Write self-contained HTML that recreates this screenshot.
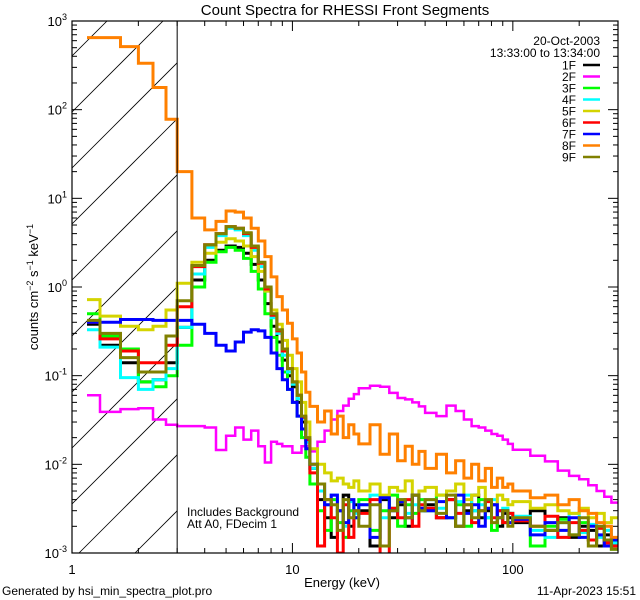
<!DOCTYPE html>
<html><head><meta charset="utf-8">
<style>
html,body{margin:0;padding:0;background:#fff;width:640px;height:600px;overflow:hidden;}
svg{display:block;font-family:"Liberation Sans",sans-serif;}
</style></head>
<body>
<svg id="chart" width="640" height="600" viewBox="0 0 640 600">
  <defs><clipPath id="plotClip"><rect x="72" y="21" width="546" height="532"/></clipPath>
  <clipPath id="hatchClip"><rect x="72" y="21" width="105.5" height="532"/></clipPath></defs>
  <rect x="0" y="0" width="640" height="600" fill="#fff"/>
  <text x="345" y="15" font-size="15" text-anchor="middle">Count Spectra for RHESSI Front Segments</text>
  <g id="hatch" clip-path="url(#hatchClip)"></g>
  <g id="series" clip-path="url(#plotClip)"></g>
  <g id="axes"></g>
  <text x="342" y="587" font-size="13" text-anchor="middle">Energy (keV)</text>
  <text transform="translate(38,287) rotate(-90)" font-size="13" text-anchor="middle">counts cm<tspan dy="-5" font-size="9">−2</tspan><tspan dy="5"> s</tspan><tspan dy="-5" font-size="9">−1</tspan><tspan dy="5"> keV</tspan><tspan dy="-5" font-size="9">−1</tspan></text>
  <text x="187" y="516" font-size="12">Includes Background</text>
  <text x="187" y="528" font-size="12">Att A0, FDecim 1</text>
  <text x="2" y="595" font-size="12">Generated by hsi_min_spectra_plot.pro</text>
  <text x="636" y="595" font-size="12" text-anchor="end">11-Apr-2023 15:51</text>
  <text x="600" y="45" font-size="12" text-anchor="end">20-Oct-2003</text>
  <text x="600" y="57" font-size="12" text-anchor="end">13:33:00 to 13:34:00</text>
  <g id="legend"></g>
</svg>
<script>
const edges = [1.17,1.34,1.66,2.0,2.33,2.67,3.0,3.5,4,4.5,5,5.5,6,6.5,7,7.5,8,8.5,9,9.5,10,10.5,11,11.5,12,13,14,15,16,17,18,19,20,22.5,25,27.5,30,32.5,35,37.5,40,45,50,55,60,65,70,75,80,85,90,95,100,120,140,160,180,200,220,240,260,280,300];
const seriesNames = ["1F","2F","3F","4F","5F","6F","7F","8F","9F"];
const seriesColors = ["#000000","#ff00ff","#00ff00","#00ffff","#d4d400","#ff0000","#0000ff","#ff8000","#808000"];
const s1F = [0.38,0.22,0.14,0.085,0.09,0.14, 0.35,1.2,2.0,2.6,2.9,2.8,2.4,1.8,1.2,0.65,0.36,0.24,0.15,0.1,0.075,0.05,0.03,0.018,
 0.009,0.004,0.0025,0.0015,0.003,0.0045,0.002,0.0035, 0.003,0.0012,0.004,0.0025,0.0035,0.002,0.0045,0.003,
 0.0035,0.0025,0.004,0.002,0.003,0.0045,0.0025,0.003,0.0035,0.002,0.0028,0.0025,
 0.0022,0.003,0.0018,0.0025,0.0015,0.002,0.0018,0.0012,0.0016,0.0013];
const s2F = [0.06,0.039,0.042,0.043,0.032,0.028, 0.027,0.027,0.026,0.0145,0.021,0.026,0.019,0.024,0.016,0.0105,0.018,0.017,0.016,0.016,0.0135,0.0135,0.016,0.016,
 0.014,0.018,0.024,0.032,0.04,0.046,0.055,0.062, 0.072,0.077,0.075,0.064,0.056,0.054,0.05,0.045,
 0.038,0.035,0.046,0.04,0.032,0.027,0.026,0.024,0.022,0.021,0.019,0.017,
 0.0146,0.0125,0.0108,0.0085,0.0074,0.0068,0.0058,0.005,0.0043,0.0037];
const s3F = [0.5,0.28,0.2,0.085,0.075,0.1, 0.22,1.0,1.9,2.5,2.8,2.6,2.1,1.5,0.95,0.5,0.27,0.17,0.11,0.07,0.05,0.035,0.02,0.012,
 0.006,0.003,0.0018,0.004,0.0022,0.0015,0.003,0.0025, 0.004,0.0018,0.003,0.0045,0.002,0.0035,0.0028,0.004,
 0.003,0.0045,0.0025,0.0035,0.002,0.003,0.004,0.0025,0.0018,0.003,0.0022,0.0028,
 0.0025,0.0012,0.002,0.0024,0.0016,0.0022,0.0014,0.0019,0.0012,0.0011];
const s4F = [0.33,0.21,0.095,0.07,0.09,0.12, 0.35,1.4,2.8,3.8,4.6,4.4,3.8,2.6,1.7,0.9,0.45,0.3,0.17,0.11,0.08,0.055,0.033,0.018,
 0.009,0.005,0.0035,0.0045,0.003,0.002,0.0038,0.0028, 0.0035,0.0045,0.0025,0.0032,0.004,0.0028,0.0035,0.003,
 0.004,0.0032,0.0025,0.0038,0.0045,0.003,0.0035,0.0025,0.004,0.003,0.0032,0.0028,
 0.0026,0.0018,0.0015,0.0022,0.0028,0.0017,0.0021,0.0015,0.0018,0.0013];
const s5F = [0.72,0.47,0.36,0.33,0.36,0.55, 1.1,1.9,2.4,3.2,3.5,3.3,2.9,2.2,1.5,0.9,0.55,0.38,0.25,0.17,0.12,0.085,0.05,0.03,
 0.015,0.01,0.008,0.0065,0.007,0.006,0.0055,0.0065, 0.005,0.006,0.0045,0.0055,0.005,0.0065,0.0045,0.005,
 0.0055,0.0045,0.005,0.006,0.004,0.0045,0.0055,0.004,0.0035,0.0045,0.004,0.0035,
 0.0038,0.0032,0.0035,0.003,0.0028,0.0032,0.0025,0.0028,0.0022,0.0025];
const s6F = [0.4,0.26,0.19,0.14,0.14,0.22, 0.6,1.7,3.0,4.0,4.8,4.6,4.0,2.8,1.85,0.95,0.48,0.32,0.19,0.12,0.085,0.06,0.034,0.019,
 0.008,0.0012,0.004,0.0025,0.001,0.0035,0.0015,0.003, 0.0028,0.004,0.0009,0.0032,0.0025,0.004,0.002,0.0035,
 0.0032,0.0025,0.004,0.0028,0.0035,0.0022,0.003,0.0038,0.0025,0.003,0.0022,0.0028,
 0.0023,0.002,0.0026,0.0015,0.0022,0.0018,0.0014,0.0019,0.0013,0.0012];
const s7F = [0.4,0.4,0.43,0.43,0.42,0.42, 0.42,0.38,0.3,0.22,0.19,0.24,0.31,0.33,0.32,0.27,0.18,0.12,0.09,0.07,0.05,0.035,0.025,0.015,
 0.01,0.006,0.0035,0.0045,0.003,0.0022,0.004,0.0025, 0.0035,0.0015,0.0042,0.003,0.0038,0.0025,0.0045,0.0032,
 0.003,0.0038,0.0025,0.0045,0.0028,0.0035,0.002,0.0032,0.0035,0.0025,0.003,0.0022,
 0.0024,0.0016,0.0022,0.0018,0.0025,0.0015,0.002,0.0016,0.0012,0.0014];
const s8F = [650,650,515,333,178,78, 20,6,4.4,5.5,7.2,7.0,6.0,4.6,3.3,2.2,1.3,0.78,0.55,0.39,0.26,0.18,0.11,0.065,
 0.045,0.03,0.04,0.022,0.035,0.02,0.028,0.022, 0.017,0.028,0.013,0.022,0.011,0.016,0.01,0.014,
 0.009,0.013,0.008,0.011,0.007,0.01,0.0065,0.009,0.0055,0.007,0.0055,0.006,
 0.005,0.0042,0.0045,0.0035,0.004,0.003,0.0028,0.0022,0.002,0.0015];
const s9F = [0.42,0.3,0.16,0.11,0.11,0.28, 0.7,1.75,3.0,4.0,4.8,4.6,4.1,2.9,1.9,1.0,0.5,0.33,0.2,0.12,0.085,0.06,0.035,0.02,
 0.01,0.006,0.004,0.0035,0.0018,0.004,0.0025,0.003, 0.002,0.0035,0.0012,0.003,0.004,0.0025,0.0045,0.003,
 0.004,0.0028,0.0045,0.002,0.0035,0.0025,0.003,0.004,0.0022,0.0025,0.003,0.002,
 0.0025,0.002,0.0018,0.0022,0.0016,0.0025,0.0012,0.002,0.0014,0.0011];
const seriesValues = [s1F,s2F,s3F,s4F,s5F,s6F,s7F,s8F,s9F];
const xTickMajor = [1,10,100];
const xTickLabels = ["1","10","100"];
const yTickExps = [-3,-2,-1,0,1,2,3];

const NS = "http://www.w3.org/2000/svg";
const X0 = 72, X1 = 618, Y0 = 21, Y1 = 553;
const xMinLog = 0, xMaxLog = Math.log10(300);
const yMinLog = -3, yMaxLog = 3;
function xs(e){ return X0 + (Math.log10(e) - xMinLog) / (xMaxLog - xMinLog) * (X1 - X0); }
function ys(v){ const lv = Math.log10(Math.max(v, 1e-6)); return Y1 - (lv - yMinLog) / (yMaxLog - yMinLog) * (Y1 - Y0); }
function mk(tag, attrs, parent){ const el = document.createElementNS(NS, tag); for (const k in attrs) el.setAttribute(k, attrs[k]); parent.appendChild(el); return el; }

const hatch = document.getElementById('hatch');
for (let c = -600; c < 700; c += 56) {
  const ln = mk('line', {x1: 72, y1: c + 600, x2: 672, y2: c, stroke: '#000', 'stroke-width': 0.8}, hatch);
  
  
}

const sg = document.getElementById('series');
seriesValues.forEach((vals, i) => {
  let d = 'M' + xs(edges[0]).toFixed(1) + ',' + ys(vals[0]).toFixed(1) + ' H' + xs(edges[1]).toFixed(1);
  for (let b = 1; b < vals.length; b++) {
    d += ' V' + ys(vals[b]).toFixed(1) + ' H' + xs(edges[b + 1]).toFixed(1);
  }
  const p = mk('path', {d: d, fill: 'none', stroke: seriesColors[i], 'stroke-width': i === 1 ? 2.5 : 3, 'stroke-linejoin': 'miter'}, sg);
  
  
});

const ax = document.getElementById('axes');
const vline = mk('line', {x1: xs(3), y1: Y0, x2: xs(3), y2: Y1, stroke: '#000', 'stroke-width': 1}, ax);


const frame = mk('rect', {x: X0, y: Y0, width: X1 - X0, height: Y1 - Y0, fill: 'none', stroke: '#000', 'stroke-width': 1.2}, ax);


for (let dec = 0; dec < 3; dec++) {
  for (let m = 1; m <= 9; m++) {
    const e = m * Math.pow(10, dec);
    if (e > 300) break;
    const x = xs(e), L = m === 1 ? 10 : 5;
    const t1 = mk('line', {x1: x, y1: Y1, x2: x, y2: Y1 - L, stroke: '#000'}, ax);
    
    
    const t2 = mk('line', {x1: x, y1: Y0, x2: x, y2: Y0 + L, stroke: '#000'}, ax);
    
    
  }
}
xTickMajor.forEach((e, i) => {
  const t = mk('text', {x: xs(e), y: 574, 'font-size': 13, 'text-anchor': 'middle'}, ax);
  t.textContent = xTickLabels[i];
  
  
});
yTickExps.forEach(p => {
  for (let m = 1; m <= 9; m++) {
    if (p === 3 && m > 1) break;
    const y = ys(m * Math.pow(10, p)), L = m === 1 ? 10 : 5;
    const t1 = mk('line', {x1: X0, y1: y, x2: X0 + L, y2: y, stroke: '#000'}, ax);
    
    
    const t2 = mk('line', {x1: X1, y1: y, x2: X1 - L, y2: y, stroke: '#000'}, ax);
    
    
  }
  const y = ys(Math.pow(10, p));
  const t = mk('text', {x: 67, y: y + 5, 'font-size': 13, 'text-anchor': 'end'}, ax);
  t.innerHTML = '10<tspan dy="-6" font-size="9">' + p + '</tspan>';
  
  
});

const lg = document.getElementById('legend');
seriesNames.forEach((n, i) => {
  const y = 65 + i * 11.5;
  const t = mk('text', {x: 576, y: y + 4.5, 'font-size': 12, 'text-anchor': 'end'}, lg);
  t.textContent = n;
  
  
  const l = mk('line', {x1: 583, y1: y, x2: 600, y2: y, stroke: seriesColors[i], 'stroke-width': 2.5}, lg);
  
  
});
</script>
</body></html>
